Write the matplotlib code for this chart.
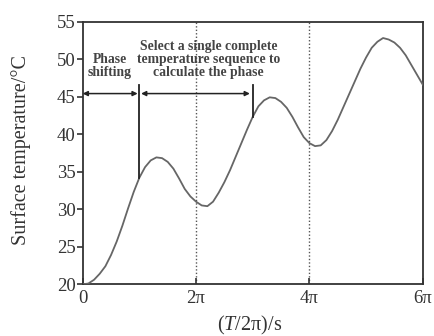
import numpy as np
import matplotlib.pyplot as plt

plt.rcParams['font.family'] = ['Liberation Serif', 'DejaVu Serif']
plt.rcParams['mathtext.fontset'] = 'custom'
plt.rcParams['mathtext.rm'] = 'Liberation Serif'
plt.rcParams['mathtext.it'] = 'Liberation Serif:italic'

# time in units of pi
t_pi = [0.0, 0.1, 0.2, 0.3, 0.4, 0.5, 0.6, 0.7, 0.8, 0.9,
        1.0, 1.1, 1.2, 1.3, 1.4, 1.5, 1.6, 1.7, 1.8, 1.9,
        2.0, 2.1, 2.2, 2.3, 2.4, 2.5, 2.6, 2.7, 2.8, 2.9,
        3.0, 3.1, 3.2, 3.3, 3.4, 3.5, 3.6, 3.7, 3.8, 3.9,
        4.0, 4.1, 4.2, 4.3, 4.4, 4.5, 4.6, 4.7, 4.8, 4.9,
        5.0, 5.1, 5.2, 5.3, 5.4, 5.5, 5.6, 5.7, 5.8, 5.9, 6.0]
temp = [20.0, 20.1, 20.6, 21.4, 22.4, 23.9, 25.7, 27.8, 30.1, 32.3,
        34.2, 35.6, 36.5, 36.9, 36.8, 36.3, 35.4, 34.1, 32.7, 31.7,
        31.0, 30.5, 30.4, 31.0, 32.2, 33.6, 35.2, 37.0, 38.8, 40.6,
        42.3, 43.7, 44.5, 44.9, 44.8, 44.3, 43.5, 42.3, 40.9, 39.6,
        38.8, 38.4, 38.5, 39.2, 40.4, 41.9, 43.6, 45.3, 47.0, 48.7,
        50.2, 51.5, 52.3, 52.8, 52.6, 52.2, 51.5, 50.5, 49.2, 47.9, 46.6]

x_ticks = [0, 2, 4, 6]
x_ticklabels = ['0', '2π', '4π', '6π']
y_ticks = [20, 25, 30, 35, 40, 45, 50, 55]

fig = plt.figure(figsize=(4.34, 3.36), dpi=100)
ax = fig.add_axes([0.1906, 0.154, 0.7834, 0.782])

ax.plot(t_pi, temp, color='#666666', lw=1.3, zorder=3)

# dotted period markers
for xv in [2, 4]:
    ax.axvline(xv, color='#555555', ls=(0, (1, 1.5)), lw=1.0, zorder=1)

# markers for the phase window
y_arrow = 45.4
ax.plot([1, 1], [temp[10], 46.6], color='#222222', lw=1.3, zorder=4)
ax.plot([3, 3], [temp[30], 46.6], color='#222222', lw=1.3, zorder=4)
ax.annotate('', xy=(0, y_arrow), xytext=(0.97, y_arrow),
            arrowprops=dict(arrowstyle='<|-|>', color='#222222', lw=1.1,
                            mutation_scale=7, shrinkA=0, shrinkB=0))
ax.annotate('', xy=(1.03, y_arrow), xytext=(2.95, y_arrow),
            arrowprops=dict(arrowstyle='<|-|>', color='#222222', lw=1.1,
                            mutation_scale=7, shrinkA=0, shrinkB=0))

ax.text(0.48, 49.1, 'Phase\nshifting', ha='center', va='center',
        fontsize=9.8, fontweight='bold', color='#444444', linespacing=1.0)
ax.text(2.22, 50.0, 'Select a single complete\ntemperature sequence to\ncalculate the phase',
        ha='center', va='center', fontsize=9.8, fontweight='bold',
        color='#444444', linespacing=1.0)

ax.set_xlim(0, 6)
ax.set_ylim(20, 55)
ax.set_xticks(x_ticks)
ax.set_xticklabels(x_ticklabels)
ax.set_yticks(y_ticks)
ax.tick_params(axis='x', direction='in', length=4, width=1.2, labelsize=13.5,
               pad=4, colors='#333333')
ax.tick_params(axis='y', direction='out', length=4, width=1.2, labelsize=13.5,
               pad=1, colors='#333333')
for s in ax.spines.values():
    s.set_linewidth(1.3)
    s.set_color('#333333')

fig.text(21 / 434, 1 - 150 / 336, 'Surface temperature/°C', rotation=90,
         ha='center', va='center', fontsize=14.5, color='#333333')
fig.text(250 / 434, 1 - 325 / 336, r'($\mathit{T}$/2π)/s',
         ha='center', va='center', fontsize=14.5, color='#333333')

fig.savefig('out.png', dpi=100)
